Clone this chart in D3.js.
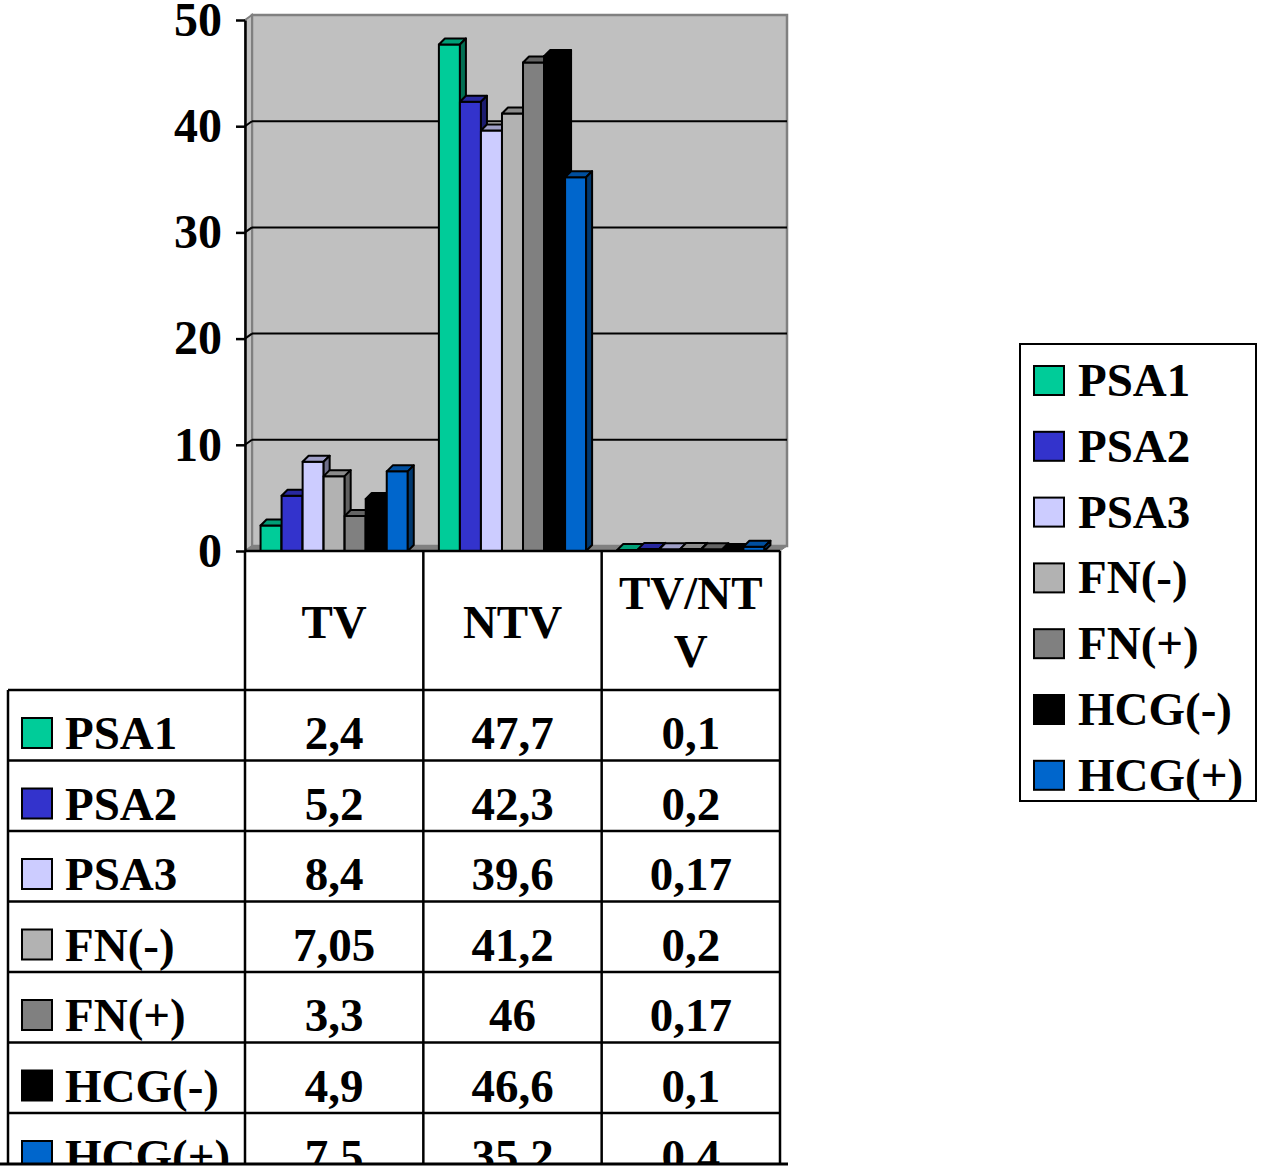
<!DOCTYPE html>
<html>
<head>
<meta charset="utf-8">
<script src="https://cdn.jsdelivr.net/npm/d3@7"></script>
<style>
  body { margin: 0; background: #fff; }
  text { font-family: "Liberation Serif", "Times New Roman", serif; font-weight: bold; fill: #000; }
</style>
</head>
<body>
<div id="chart"></div>
<script>
// data
var categories = ["TV", "NTV", "TV/NTV"];
var seriesNames = ["PSA1", "PSA2", "PSA3", "FN(-)", "FN(+)", "HCG(-)", "HCG(+)"];
var tvValues = [2.4, 5.2, 8.4, 7.05, 3.3, 4.9, 7.5];
var ntvValues = [47.7, 42.3, 39.6, 41.2, 46, 46.6, 35.2];
var ratioValues = [0.1, 0.2, 0.17, 0.2, 0.17, 0.1, 0.4];
var yTicks = [0, 10, 20, 30, 40, 50];

// one colour per series
var palette = ["#00CC99", "#3333CC", "#CCCCFF", "#B2B2B2", "#808080", "#000000", "#0066CC"];

var valuesByCat = [tvValues, ntvValues, ratioValues];

var W = 1277, H = 1169;
var svg = d3.select("#chart").append("svg")
  .attr("width", W).attr("height", H);

// scales
var x0 = d3.scaleBand().domain(categories).range([245, 780]);
var x1 = d3.scaleBand().domain(seriesNames).range([0, x0.bandwidth()]).paddingOuter(0.74);
var y = d3.scaleLinear().domain([0, 50]).range([551, 20]);
var color = d3.scaleOrdinal().domain(seriesNames).range(palette);

// 3d depth of walls and bars
var wdx = 7, wdy = 5;
var bdx = 6, bdy = 6;

var left = x0.range()[0], right = x0.range()[1];
var y0 = y(0), yTop = y(50);

// walls
svg.append("rect")
  .attr("x", left + wdx).attr("y", yTop - wdy)
  .attr("width", right - left).attr("height", y0 - yTop)
  .attr("fill", "#C0C0C0").attr("stroke", "#808080").attr("stroke-width", 2.5);
svg.append("polygon")
  .attr("points", [[left, yTop], [left + wdx, yTop - wdy], [left + wdx, y0 - wdy], [left, y0]].join(" "))
  .attr("fill", "#C0C0C0").attr("stroke", "#808080").attr("stroke-width", 2);
svg.append("polygon")
  .attr("points", [[left, y0], [left + wdx, y0 - wdy], [right + wdx, y0 - wdy], [right, y0]].join(" "))
  .attr("fill", "#808080").attr("stroke", "#808080").attr("stroke-width", 1);

// gridlines on back wall
var grid = svg.append("g");
yTicks.filter(function (t) { return t > 0 && t < 50; }).forEach(function (t) {
  grid.append("line")
    .attr("x1", left + wdx).attr("x2", right + wdx)
    .attr("y1", y(t) - wdy).attr("y2", y(t) - wdy)
    .attr("stroke", "#000").attr("stroke-width", 2);
  grid.append("line")
    .attr("x1", left).attr("x2", left + wdx)
    .attr("y1", y(t)).attr("y2", y(t) - wdy)
    .attr("stroke", "#000").attr("stroke-width", 2);
});

// bars
var bars = svg.append("g");
categories.forEach(function (cat, ci) {
  seriesNames.forEach(function (s, si) {
    var v = valuesByCat[ci][si];
    var bx = x0(cat) + x1(s), bw = x1.bandwidth(), by = y(v);
    var c = d3.color(color(s));
    var g = bars.append("g").attr("stroke", "#000").attr("stroke-width", 2).attr("stroke-linejoin", "round");
    g.append("rect").attr("x", bx).attr("y", by).attr("width", bw).attr("height", y0 - by).attr("fill", c);
    g.append("polygon")
      .attr("points", [[bx, by], [bx + bdx, by - bdy], [bx + bw + bdx, by - bdy], [bx + bw, by]].join(" "))
      .attr("fill", c.darker(0.7));
    g.append("polygon")
      .attr("points", [[bx + bw, by], [bx + bw + bdx, by - bdy], [bx + bw + bdx, y0 - bdy], [bx + bw, y0]].join(" "))
      .attr("fill", c.darker(1.7));
  });
});

// y axis
var yAxis = svg.append("g")
  .attr("transform", "translate(" + left + ",0)")
  .call(d3.axisLeft(y).tickValues(yTicks).tickSize(9).tickSizeOuter(0).tickPadding(14));
yAxis.select(".domain").attr("stroke", "#000").attr("stroke-width", 2.5);
yAxis.selectAll(".tick line").attr("stroke", "#000").attr("stroke-width", 2.5);
yAxis.selectAll(".tick text")
  .style("font-family", "'Liberation Serif', serif").style("font-weight", "bold")
  .style("font-size", "48px").attr("fill", "#000");

// data table
var fmt = function (v) { return String(v).replace(".", ","); };
var tableLeft = 8, headTop = y0, headBottom = 690, rowH = 70.5, tableBottom = 1164;
var fs = "47px";

svg.append("clipPath").attr("id", "tclip")
  .append("rect").attr("x", 0).attr("y", 0).attr("width", W).attr("height", tableBottom);
var table = svg.append("g").attr("clip-path", "url(#tclip)");

// header labels (wrap by characters when too wide)
categories.forEach(function (cat) {
  var cx = x0(cat) + x0.bandwidth() / 2;
  var t = table.append("text").attr("x", cx).attr("text-anchor", "middle").style("font-size", fs);
  var lines = [], cur = "";
  var probe = table.append("text").style("font-size", fs);
  cat.split("").forEach(function (ch) {
    probe.text(cur + ch);
    if (probe.node().getComputedTextLength() > x0.bandwidth() - 12 && cur.length) {
      lines.push(cur); cur = ch;
    } else cur += ch;
  });
  lines.push(cur);
  probe.remove();
  var mid = (headTop + headBottom) / 2, lh = 58;
  lines.forEach(function (ln, i) {
    t.append("tspan").attr("x", cx)
      .attr("y", mid + 17 + (i - (lines.length - 1) / 2) * lh)
      .text(ln);
  });
});

// rows
seriesNames.forEach(function (s, si) {
  var top = headBottom + si * rowH;
  table.append("rect")
    .attr("x", 22).attr("y", top + 28).attr("width", 30).attr("height", 30)
    .attr("fill", color(s)).attr("stroke", "#000").attr("stroke-width", 2);
  table.append("text").attr("x", 65).attr("y", top + 59).style("font-size", fs).text(s);
  categories.forEach(function (cat, ci) {
    table.append("text")
      .attr("x", x0(cat) + x0.bandwidth() / 2).attr("y", top + 59)
      .attr("text-anchor", "middle").style("font-size", fs)
      .text(fmt(valuesByCat[ci][si]));
  });
});

// table grid lines
var lines = table.append("g").attr("stroke", "#000").attr("stroke-width", 2.5);
x0.domain().forEach(function (cat) {
  lines.append("line").attr("x1", x0(cat)).attr("x2", x0(cat)).attr("y1", headTop).attr("y2", tableBottom);
});
lines.append("line").attr("x1", right).attr("x2", right).attr("y1", headTop).attr("y2", tableBottom);
lines.append("line").attr("x1", tableLeft).attr("x2", tableLeft).attr("y1", headBottom).attr("y2", tableBottom);
lines.append("line").attr("x1", left).attr("x2", right).attr("y1", headTop).attr("y2", headTop);
d3.range(seriesNames.length).forEach(function (i) {
  var yy = headBottom + i * rowH;
  lines.append("line").attr("x1", tableLeft).attr("x2", right).attr("y1", yy).attr("y2", yy);
});
svg.append("line").attr("x1", 0).attr("x2", right + 8).attr("y1", tableBottom).attr("y2", tableBottom)
  .attr("stroke", "#000").attr("stroke-width", 3);

// legend
var legend = svg.append("g");
legend.append("rect").attr("x", 1020).attr("y", 344).attr("width", 236).attr("height", 457)
  .attr("fill", "#fff").attr("stroke", "#000").attr("stroke-width", 2);
seriesNames.forEach(function (s, i) {
  var ly = 366 + i * 65.8;
  legend.append("rect").attr("x", 1034).attr("y", ly).attr("width", 30).attr("height", 29)
    .attr("fill", color(s)).attr("stroke", "#000").attr("stroke-width", 2);
  legend.append("text").attr("x", 1078).attr("y", ly + 30).style("font-size", fs).text(s);
});
</script>
</body>
</html>
